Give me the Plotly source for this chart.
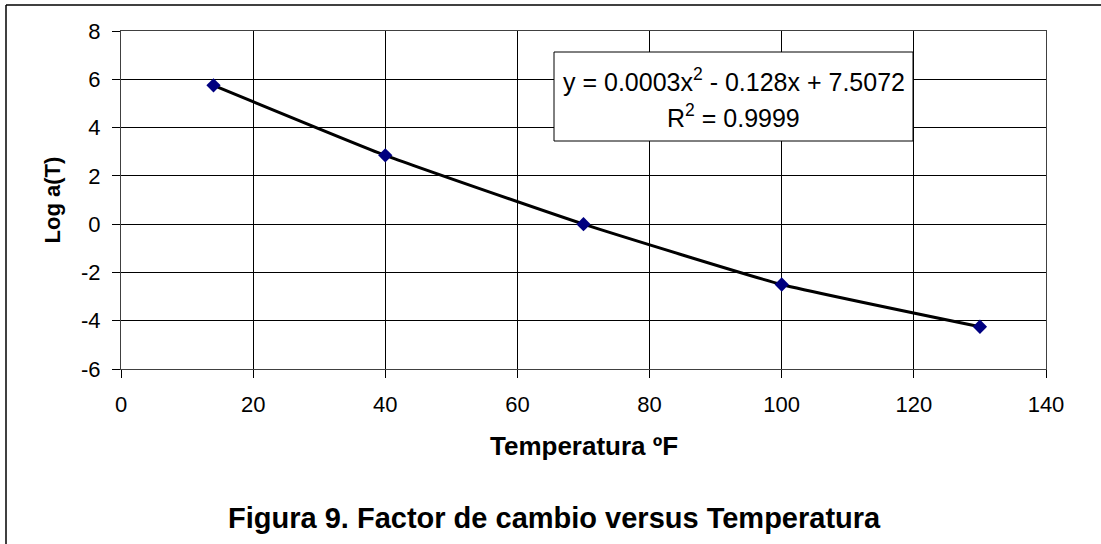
import plotly.graph_objects as go

# Data
temperatura = [14, 40, 70, 100, 130]
log_aT = [5.75, 2.85, 0.0, -2.5, -4.25]
x_ticks = [0, 20, 40, 60, 80, 100, 120, 140]
y_ticks = [-6, -4, -2, 0, 2, 4, 6, 8]
y_tick_labels = ["-6", "-4", "-2", "0", "2", "4", "6", "8"]
eq_text = "y = 0.0003x<sup>2</sup> - 0.128x + 7.5072"
r2_text = "R<sup>2</sup> = 0.9999"
title_text = "<b>Figura 9. Factor de cambio versus Temperatura</b>"
x_title = "<b>Temperatura ºF</b>"
y_title = "<b>Log a(T)</b>"

OFF = 0  # body margin removed via post_script
W, H = 1101, 544
PW, PH = 925, 338
L, T = 121 - OFF, 31 - OFF
R = W - L - PW
B = H - T - PH


def px_x(p):
    return (p - OFF - L) / PW


def px_y(p):
    return (H - B - (p - OFF)) / PH


FONT = "Arial, 'Liberation Sans', sans-serif"

fig = go.Figure()
fig.add_trace(go.Scatter(
    x=temperatura, y=log_aT, mode="lines",
    line=dict(color="black", width=3, shape="spline", smoothing=0.4),
    hoverinfo="skip", showlegend=False,
))
fig.add_trace(go.Scatter(
    x=temperatura, y=log_aT, mode="markers",
    marker=dict(symbol="diamond", color="#000080", size=11,
                line=dict(color="#000080", width=0)),
    showlegend=False,
))

fig.update_layout(
    width=W, height=H,
    margin=dict(l=L, r=R, t=T, b=B),
    paper_bgcolor="white", plot_bgcolor="white",
    font=dict(family=FONT, color="black", size=22),
    showlegend=False,
)
fig.update_xaxes(
    range=[0, 140], tickvals=x_ticks, showgrid=True, gridcolor="black",
    gridwidth=1, zeroline=False, showline=True, linecolor="#404040",
    linewidth=1, mirror=True, ticks="outside", ticklen=8, tickcolor="black",
    tickfont=dict(size=22), ticklabelstandoff=8,
)
fig.update_yaxes(
    range=[-6, 8], tickvals=y_ticks, ticktext=y_tick_labels, showgrid=True,
    gridcolor="black", gridwidth=1, zeroline=False, showline=True,
    linecolor="#404040", linewidth=1, mirror=True, ticks="outside",
    ticklen=8, tickcolor="black", tickfont=dict(size=22),
    ticklabelstandoff=7,
    title=dict(text=y_title, font=dict(size=22), standoff=14),
)

shapes = [
    # outer chart border (top and left edges)
    dict(type="line", xref="paper", yref="paper",
         x0=px_x(6), x1=px_x(W + 20), y0=px_y(5), y1=px_y(5),
         line=dict(color="black", width=1.5), layer="below"),
    dict(type="line", xref="paper", yref="paper",
         x0=px_x(6), x1=px_x(6), y0=px_y(5), y1=px_y(H + 20),
         line=dict(color="black", width=1.5), layer="below"),
    # equation box
    dict(type="rect", xref="paper", yref="paper",
         x0=px_x(554), x1=px_x(913), y0=px_y(141), y1=px_y(52),
         line=dict(color="black", width=1), fillcolor="white", layer="above"),
]
annotations = [
    dict(text=eq_text, xref="paper", yref="paper", x=px_x(733.5), y=px_y(80),
         showarrow=False, xanchor="center", yanchor="middle",
         font=dict(size=25)),
    dict(text=r2_text, xref="paper", yref="paper", x=px_x(733.5), y=px_y(116),
         showarrow=False, xanchor="center", yanchor="middle",
         font=dict(size=25)),
    dict(text=x_title, xref="paper", yref="paper", x=px_x(584), y=px_y(446),
         showarrow=False, xanchor="center", yanchor="middle",
         font=dict(size=26)),
    dict(text=title_text, xref="paper", yref="paper", x=px_x(554), y=px_y(518),
         showarrow=False, xanchor="center", yanchor="middle",
         font=dict(size=29)),
]
fig.update_layout(shapes=shapes, annotations=annotations)

fig.write_html(
    "out.html",
    config={"displayModeBar": False},
    post_script="document.body.style.margin='0';document.body.style.padding='0';",
)
